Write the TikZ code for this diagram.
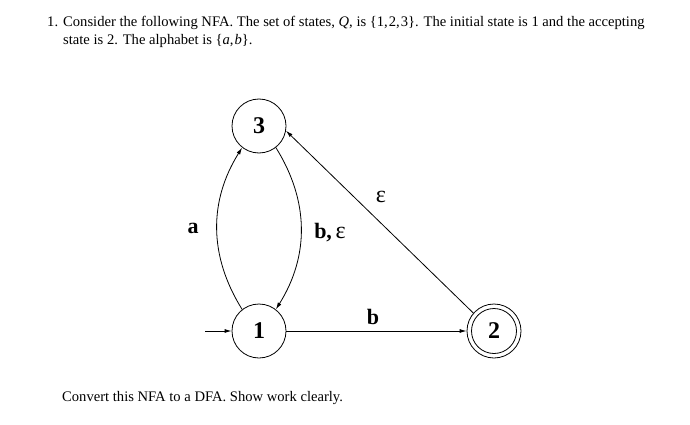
\documentclass[tikz,border=0pt]{standalone}
\usepackage{fontspec}
\setmainfont{Liberation Serif}
\usetikzlibrary{arrows.meta}
\begin{document}
\begin{tikzpicture}[x=1pt,y=-1pt,
  state/.style={circle,draw,line width=0.8pt,minimum size=54pt,inner sep=0pt,font=\fontsize{24}{24}\selectfont\bfseries},
  edge/.style={line width=0.8pt,-{Latex[length=7pt,width=4pt]}},
  lbl/.style={font=\fontsize{22}{22}\selectfont\bfseries,inner sep=0pt},
  txt/.style={anchor=base west,inner sep=0pt,font=\fontsize{14.6}{16}\selectfont}]
\useasboundingbox (0,0) rectangle (690,425);
\node[txt] (t0) at (47,27) {1.};
\node[txt] (t1) at (63,27) {Consider the following NFA. The set of states, \textit{Q}, is \{1,\kern1pt2,\kern1pt3\}. The initial state is 1 and the accepting};
\node[txt] (t2) at (63,45) {state is 2. The alphabet is \{\textit{a},\kern1pt\textit{b}\}.};
\node[txt] (t3) at (62,401) {Convert this NFA to a DFA. Show work clearly.};
\node[state] (n3) at (259,126) {3};
\node[state] (n1) at (259,331) {1};
\node[state] (n2) at (494,331) {2};
\draw[line width=0.8pt] (n2) circle (22.5);
\coordinate (s) at (205,331);
\draw[edge] (s) -- (n1);
\draw[edge] (n1.128) to[out=122,in=-122] (n3.232);
\draw[edge] (n3.-52) to[out=-58,in=58] (n1.52);
\draw[edge] (n1) -- (n2);
\draw[edge] (n2.139) -- (n3.-10);
\node[lbl] (la) at (193,228) {a};
\node[lbl] (lbe) at (330,233) {b,\,{\mdseries\fontsize{24}{24}\selectfont ε}};
\node[lbl] (le) at (381,197) {\mdseries\fontsize{24}{24}\selectfont ε};
\node[lbl] (lb) at (373,317) {b};
\end{tikzpicture}
\end{document}
